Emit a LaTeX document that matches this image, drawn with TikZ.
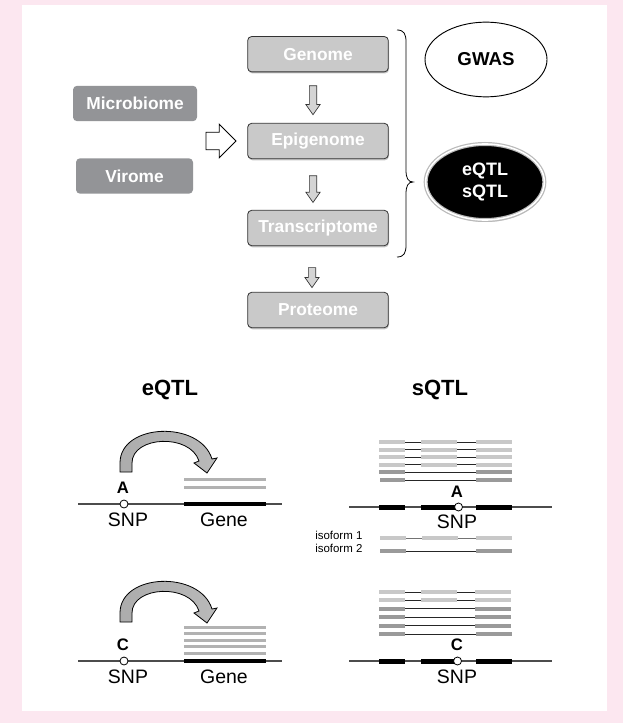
\documentclass[tikz,border=0pt]{standalone}
\usepackage{fontspec}
\setmainfont{Liberation Sans}
\usetikzlibrary{positioning,calc,shapes.geometric,shapes.arrows,shadows}
\definecolor{pinkbg}{HTML}{FCE7F0}
\definecolor{chaingray}{HTML}{C9C9C9}
\definecolor{sidegray}{HTML}{939497}
\definecolor{exonlight}{HTML}{C8C8C8}
\definecolor{exondark}{HTML}{9A9A9A}
\definecolor{readgray}{HTML}{B2B2B2}

\begin{document}
\begin{tikzpicture}[x=0.75pt,y=-0.75pt,
  omicbox/.style={rectangle,rounded corners=3pt,draw=black!80,line width=0.6pt,fill=chaingray,text=white,font=\fontsize{13}{15}\selectfont\bfseries,minimum width=105.5pt,minimum height=26.5pt,inner sep=0pt,drop shadow={shadow xshift=0.5pt,shadow yshift=-1.2pt,opacity=0.45}},
  sidebox/.style={rectangle,rounded corners=3pt,fill=sidegray,text=white,font=\fontsize{13}{15}\selectfont\bfseries,minimum height=26.5pt,inner sep=0pt},
  downarrow/.style={single arrow,draw=black!80,fill=chaingray!80,line width=0.5pt,inner sep=2.5pt,single arrow head extend=2.6pt,single arrow tip angle=70,rotate=-90},
  hollowarrow/.style={single arrow,draw=black,fill=white,line width=0.6pt,inner sep=6.3pt,single arrow head extend=6pt,minimum height=22.5pt},
  headline/.style={font=\fontsize{16.5}{20}\selectfont\bfseries,inner sep=0pt},
  allele/.style={font=\fontsize{12.5}{15}\selectfont\bfseries,inner sep=0pt},
  plain/.style={font=\fontsize{14.6}{17}\selectfont,inner sep=0pt},
  isolabel/.style={font=\fontsize{8.6}{10}\selectfont,inner sep=0pt,anchor=west},
  snp/.style={circle,draw=black,fill=white,line width=0.6pt,minimum size=6pt,inner sep=0pt},
  dnaline/.style={draw=black!70,line width=0.8pt},
  geneexon/.style={draw=black,line width=3.75pt},
  lightexon/.style={draw=exonlight,line width=3pt},
  darkexon/.style={draw=exondark,line width=3pt},
  intron/.style={draw=black!85,line width=0.6pt},
  readbar/.style={draw=readgray,line width=2.25pt},
  bigarrow/.style={draw=black,line width=0.6pt,left color=gray!65,middle color=gray!15,right color=gray!55}]
\useasboundingbox (0,0) rectangle (634,723);
\fill[pinkbg] (0,0) rectangle (623,723);
\fill[white] (22,5) rectangle (607,711);

\node[omicbox] (genome) at (318,54.2) {Genome};
\node[omicbox] (epigenome) at (318,141) {Epigenome};
\node[omicbox] (transcriptome) at (318,228) {Transcriptome};
\node[omicbox] (proteome) at (318,310) {Proteome};
\node[downarrow,minimum height=21.75pt] (arrgenome) at ($(genome.south)!0.5!(epigenome.north)+(-5,0)$) {};
\node[downarrow,minimum height=20pt] (arrepigenome) at ($(epigenome.south)!0.5!(transcriptome.north)+(-5,2)$) {};
\node[downarrow,minimum height=15pt] (arrtranscriptome) at ($(transcriptome.south)!0.5!(proteome.north)+(-6,6)$) {};
\node[sidebox,minimum width=93pt] (microbiome) at (135,103.5) {Microbiome};
\node[sidebox,minimum width=87.75pt] (virome) at (134.5,176) {Virome};
\node[hollowarrow,left=8pt of epigenome] (arrside) {};
\node[ellipse,draw=black,line width=0.7pt,fill=white,minimum width=91.5pt,minimum height=56pt,inner sep=0pt,font=\fontsize{14}{16}\selectfont\bfseries] (gwas) at (486,59.5) {GWAS};
\node[ellipse,fill=black,draw=gray!55,double=white,double distance=1.2pt,line width=0.9pt,minimum width=89pt,minimum height=57pt,inner sep=0pt,text=white,align=center,font=\fontsize{13.5}{17}\selectfont\bfseries,drop shadow={shadow xshift=0.6pt,shadow yshift=-1.5pt,opacity=0.4}] (qtl) at (485,182) {eQTL\\sQTL};
\draw[line width=0.6pt] (397,30) .. controls (404,30) and (406,34) .. (406,42) -- (406,170) .. controls (406,178) and (408,182) .. (413,182) .. controls (408,182) and (406,186) .. (406,194) -- (406,245) .. controls (406,253) and (404,257) .. (397,257);

\node[headline] (eqtlhead) at (170,390) {eQTL};
\node[headline] (sqtlhead) at (440,390) {sQTL};

\draw[dnaline] (78,504) -- (282,504);
\draw[readbar] (184,479) -- (266,479);
\draw[readbar] (184,487) -- (266,487);
\draw[geneexon,line width=3.4pt] (184,504) -- (266,504);
\node[snp] (snpeqtla) at (124,504) {};
\node[allele] (alleleeqtla) at (123,488) {A};
\node[plain] (snplabeleqtla) at (128,519.5) {SNP};
\node[plain] (genelabeleqtla) at (224,519.5) {Gene};
\draw[bigarrow] (120,472) -- (120,463) .. controls (120,423) and (200,420) .. (212,459) -- (217,458) -- (207,473) -- (194,463) -- (199,461) .. controls (190,433) and (132,436) .. (132,463) -- (132,472) -- cycle;

\draw[dnaline] (78,661) -- (282,661);
\draw[readbar] (184,627) -- (266,627);
\draw[readbar] (184,633.5) -- (266,633.5);
\draw[readbar] (184,640) -- (266,640);
\draw[readbar] (184,646.5) -- (266,646.5);
\draw[readbar] (184,653) -- (266,653);
\draw[geneexon,line width=3.4pt] (184,661) -- (266,661);
\node[snp] (snpeqtlc) at (124,661) {};
\node[allele] (alleleeqtlc) at (123,645) {C};
\node[plain] (snplabeleqtlc) at (128,677) {SNP};
\node[plain] (genelabeleqtlc) at (224,677) {Gene};
\draw[bigarrow] (120,622) -- (120,613) .. controls (120,573) and (200,570) .. (212,609) -- (217,608) -- (207,623) -- (194,613) -- (199,611) .. controls (190,583) and (132,586) .. (132,613) -- (132,622) -- cycle;

\draw[intron] (379,442) -- (512,442);
\draw[lightexon] (379,442) -- (405,442);
\draw[lightexon] (421,442) -- (457,442);
\draw[lightexon] (476,442) -- (512,442);
\draw[intron] (379,449.6) -- (512,449.6);
\draw[lightexon] (379,449.6) -- (405,449.6);
\draw[lightexon] (421,449.6) -- (457,449.6);
\draw[lightexon] (476,449.6) -- (512,449.6);
\draw[intron] (379,457.2) -- (512,457.2);
\draw[lightexon] (379,457.2) -- (405,457.2);
\draw[lightexon] (421,457.2) -- (457,457.2);
\draw[lightexon] (476,457.2) -- (512,457.2);
\draw[intron] (379,464.8) -- (512,464.8);
\draw[lightexon] (379,464.8) -- (405,464.8);
\draw[lightexon] (421,464.8) -- (457,464.8);
\draw[lightexon] (476,464.8) -- (512,464.8);
\draw[intron] (405,472.4) -- (476,472.4);
\draw[darkexon] (379,472.4) -- (405,472.4);
\draw[darkexon] (476,472.4) -- (512,472.4);
\draw[intron] (405,480) -- (476,480);
\draw[darkexon] (380,480) -- (405,480);
\draw[darkexon] (476,480) -- (512,480);
\draw[dnaline] (349,507) -- (552,507);
\draw[geneexon] (379,507) -- (405,507);
\draw[geneexon] (421,507) -- (457,507);
\draw[geneexon] (476,507) -- (512,507);
\node[snp] (snpsqtla) at (458.5,507) {};
\node[allele] (allelesqtla) at (457,492) {A};
\node[plain] (snplabelsqtla) at (457,522) {SNP};

\node[isolabel] (isoone) at (315,535.5) {isoform 1};
\node[isolabel] (isotwo) at (315,548.5) {isoform 2};
\draw[intron,draw=black!55] (380,538) -- (512,538);
\draw[lightexon] (380,538) -- (406,538);
\draw[lightexon] (422,538) -- (458,538);
\draw[lightexon] (476,538) -- (512,538);
\draw[intron] (406,551) -- (476,551);
\draw[darkexon] (380,551) -- (406,551);
\draw[darkexon] (476,551) -- (512,551);

\draw[intron] (379,592) -- (511,592);
\draw[lightexon] (379,592) -- (405,592);
\draw[lightexon] (421,592) -- (457,592);
\draw[lightexon] (475,592) -- (511,592);
\draw[intron] (379,600.4) -- (511,600.4);
\draw[lightexon] (379,600.4) -- (405,600.4);
\draw[lightexon] (421,600.4) -- (457,600.4);
\draw[lightexon] (475,600.4) -- (511,600.4);
\draw[intron] (405,608.8) -- (475,608.8);
\draw[darkexon] (379,608.8) -- (405,608.8);
\draw[darkexon] (475,608.8) -- (511,608.8);
\draw[intron] (405,617.2) -- (475,617.2);
\draw[darkexon] (379,617.2) -- (405,617.2);
\draw[darkexon] (475,617.2) -- (511,617.2);
\draw[intron] (405,625.6) -- (475,625.6);
\draw[darkexon] (379,625.6) -- (405,625.6);
\draw[darkexon] (475,625.6) -- (511,625.6);
\draw[intron] (405,634) -- (476,634);
\draw[darkexon] (379,634) -- (405,634);
\draw[darkexon] (476,634) -- (512,634);
\draw[dnaline] (349,661) -- (552,661);
\draw[geneexon] (379,661) -- (405,661);
\draw[geneexon] (421,661) -- (457,661);
\draw[geneexon] (476,661) -- (512,661);
\node[snp] (snpsqtlc) at (457.5,661) {};
\node[allele] (allelesqtlc) at (457,645) {C};
\node[plain] (snplabelsqtlc) at (457,677) {SNP};
\end{tikzpicture}
\end{document}
